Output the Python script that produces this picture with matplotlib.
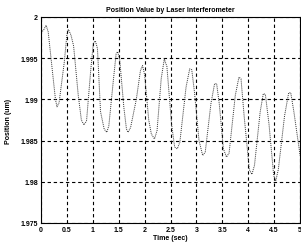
import matplotlib
matplotlib.use('Agg')
import matplotlib.pyplot as plt

time_s = [0.00, 0.05, 0.10, 0.14, 0.22, 0.28, 0.31, 0.35, 0.45, 0.50,
          0.53, 0.58, 0.63, 0.72, 0.78, 0.83, 0.88, 0.96, 1.01, 1.05,
          1.09, 1.15, 1.22, 1.27, 1.31, 1.40, 1.45, 1.48, 1.52, 1.60,
          1.65, 1.68, 1.73, 1.84, 1.92, 1.96, 2.00, 2.08, 2.13, 2.19,
          2.24, 2.32, 2.38, 2.43, 2.52, 2.58, 2.63, 2.68, 2.80, 2.87,
          2.91, 2.96, 3.05, 3.12, 3.17, 3.28, 3.35, 3.39, 3.44, 3.52,
          3.58, 3.63, 3.75, 3.82, 3.86, 3.92, 4.02, 4.07, 4.12, 4.23,
          4.29, 4.33, 4.40, 4.49, 4.53, 4.58, 4.70, 4.78, 4.82, 4.88,
          5.00]
position_um = [1.9981, 1.9984, 1.9990, 1.9982, 1.9935, 1.9900, 1.9891, 1.9896, 1.9945, 1.9978,
               1.9985, 1.9978, 1.9965, 1.9905, 1.9875, 1.9869, 1.9874, 1.9935, 1.9968, 1.9971,
               1.9962, 1.9885, 1.9864, 1.9860, 1.9868, 1.9925, 1.9955, 1.9958, 1.9948, 1.9890,
               1.9864, 1.9860, 1.9866, 1.9900, 1.9935, 1.9941, 1.9930, 1.9875, 1.9858, 1.9852,
               1.9862, 1.9925, 1.9949, 1.9940, 1.9870, 1.9842, 1.9840, 1.9848, 1.9915, 1.9937,
               1.9936, 1.9910, 1.9850, 1.9832, 1.9836, 1.9895, 1.9919, 1.9919, 1.9895, 1.9840,
               1.9830, 1.9835, 1.9905, 1.9927, 1.9925, 1.9880, 1.9815, 1.9809, 1.9820, 1.9885,
               1.9907, 1.9906, 1.9870, 1.9808, 1.9801, 1.9815, 1.9880, 1.9908, 1.9908, 1.9885,
               1.9832]

x_ticks = [0, 0.5, 1, 1.5, 2, 2.5, 3, 3.5, 4, 4.5, 5]
x_labels = ['0', '0.5', '1', '1.5', '2', '2.5', '3', '3.5', '4', '4.5', '5']
y_ticks = [1.975, 1.98, 1.985, 1.99, 1.995, 2.0]
y_labels = ['1.975', '1.98', '1.985', '1.99', '1.995', '2']

plt.rcParams['font.family'] = ['Liberation Sans', 'DejaVu Sans']
plt.rcParams['font.weight'] = 'bold'

fig = plt.figure(figsize=(3.01, 2.51), dpi=100)
ax = fig.add_axes([0.136, 0.1076, 0.861, 0.8207])

ax.plot(time_s, position_um, color='#333333', linestyle=(0, (1, 1)), linewidth=0.7)

ax.set_xlim(0, 5)
ax.set_ylim(1.975, 2.0)
ax.set_xticks(x_ticks)
ax.set_xticklabels(x_labels)
ax.set_yticks(y_ticks)
ax.set_yticklabels(y_labels)
ax.tick_params(direction='in', labelsize=5, length=2, width=0.6, pad=2)
ax.grid(True, color='black', linestyle=(0, (3, 2.5)), linewidth=0.8)

for s in ax.spines.values():
    s.set_linewidth(0.8)

ax.set_title('Position Value by Laser Interferometer', fontsize=5, fontweight='bold', pad=4)
ax.set_xlabel('Time (sec)', fontsize=5, fontweight='bold', labelpad=1)
ax.set_ylabel('Position (um)', fontsize=5, fontweight='bold', labelpad=6)

fig.savefig('out.png', dpi=100)
